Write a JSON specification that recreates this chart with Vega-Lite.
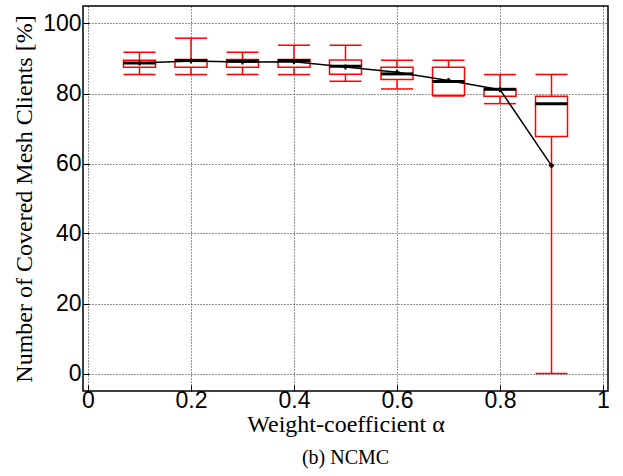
{
  "$schema": "https://vega.github.io/schema/vega-lite/v6.json",
  "width": 525,
  "height": 385,
  "autosize": {"type": "none"},
  "padding": {"left": 83, "top": 6, "right": 15, "bottom": 85},
  "background": "white",
  "title": {"text": "(b) NCMC", "orient": "bottom", "font": "Liberation Serif", "fontSize": 20, "fontWeight": "normal", "color": "black", "offset": 12},
  "config": {
    "view": {"stroke": "black", "strokeWidth": 1.5},
    "axis": {
      "labelFont": "Liberation Sans", "labelFontSize": 23, "labelColor": "black",
      "titleFont": "Liberation Serif", "titleFontSize": 24, "titleFontWeight": "normal", "titleColor": "black",
      "grid": true, "gridColor": "black", "gridDash": [1, 2], "gridOpacity": 0.85, "gridWidth": 1,
      "domain": false, "tickColor": "black", "tickSize": -6, "tickWidth": 1
    }
  },
  "data": {"values": [
    {"alpha": 0.1, "lo": 85.4, "q1": 87.5, "med": 88.7, "q3": 89.5, "hi": 91.8, "mean": 88.7},
    {"alpha": 0.2, "lo": 85.4, "q1": 87.5, "med": 89.4, "q3": 89.7, "hi": 95.8, "mean": 89.3},
    {"alpha": 0.3, "lo": 85.4, "q1": 87.5, "med": 89.2, "q3": 89.7, "hi": 91.8, "mean": 89.0},
    {"alpha": 0.4, "lo": 85.4, "q1": 87.5, "med": 89.4, "q3": 89.7, "hi": 93.8, "mean": 89.1},
    {"alpha": 0.5, "lo": 83.5, "q1": 85.5, "med": 87.8, "q3": 89.6, "hi": 93.8, "mean": 87.6},
    {"alpha": 0.6, "lo": 81.3, "q1": 84.0, "med": 85.6, "q3": 87.5, "hi": 89.5, "mean": 86.1},
    {"alpha": 0.7, "lo": 79.3, "q1": 79.5, "med": 83.4, "q3": 87.5, "hi": 89.5, "mean": 83.7},
    {"alpha": 0.8, "lo": 77.1, "q1": 79.2, "med": 81.2, "q3": 81.3, "hi": 85.4, "mean": 81.1},
    {"alpha": 0.9, "lo": 0.0, "q1": 67.7, "med": 77.1, "q3": 79.2, "hi": 85.4, "mean": 59.4}
  ]},
  "encoding": {
    "x": {"field": "alpha", "type": "quantitative",
      "scale": {"domain": [0, 1], "nice": false, "zero": false},
      "axis": {"values": [0, 0.2, 0.4, 0.6, 0.8, 1], "title": "Weight-coefficient α", "labelPadding": 4, "titlePadding": 0, "labelExpr": "datum.value == 0 ? '0' : datum.value == 1 ? '1' : format(datum.value, '.1f')"}}
  },
  "layer": [
    {"mark": {"type": "rule", "color": "red", "strokeWidth": 1.5, "opacity": 1},
     "encoding": {"y": {"field": "lo", "type": "quantitative",
        "scale": {"domain": [-5, 105], "nice": false, "zero": false},
        "axis": {"values": [0, 20, 40, 60, 80, 100], "title": "Number of Covered Mesh Clients [%]", "labelPadding": 8, "titlePadding": 6}},
      "y2": {"field": "hi"}}},
    {"mark": {"type": "bar", "fill": "white", "stroke": "red", "strokeWidth": 1.5, "size": 32, "opacity": 1},
     "encoding": {"y": {"field": "q1", "type": "quantitative"}, "y2": {"field": "q3"}}},
    {"mark": {"type": "tick", "orient": "horizontal", "color": "red", "size": 32, "thickness": 1.5, "opacity": 1},
     "encoding": {"y": {"field": "hi", "type": "quantitative"}}},
    {"mark": {"type": "tick", "orient": "horizontal", "color": "red", "size": 32, "thickness": 1.5, "opacity": 1},
     "encoding": {"y": {"field": "lo", "type": "quantitative"}}},
    {"mark": {"type": "tick", "orient": "horizontal", "color": "black", "size": 32, "thickness": 3, "opacity": 1},
     "encoding": {"y": {"field": "med", "type": "quantitative"}}},
    {"mark": {"type": "line", "color": "black", "strokeWidth": 1.5, "opacity": 1},
     "encoding": {"y": {"field": "mean", "type": "quantitative"}}},
    {"mark": {"type": "point", "shape": "cross", "color": "black", "filled": true, "size": 25, "opacity": 1},
     "encoding": {"y": {"field": "mean", "type": "quantitative"}}}
  ]
}
